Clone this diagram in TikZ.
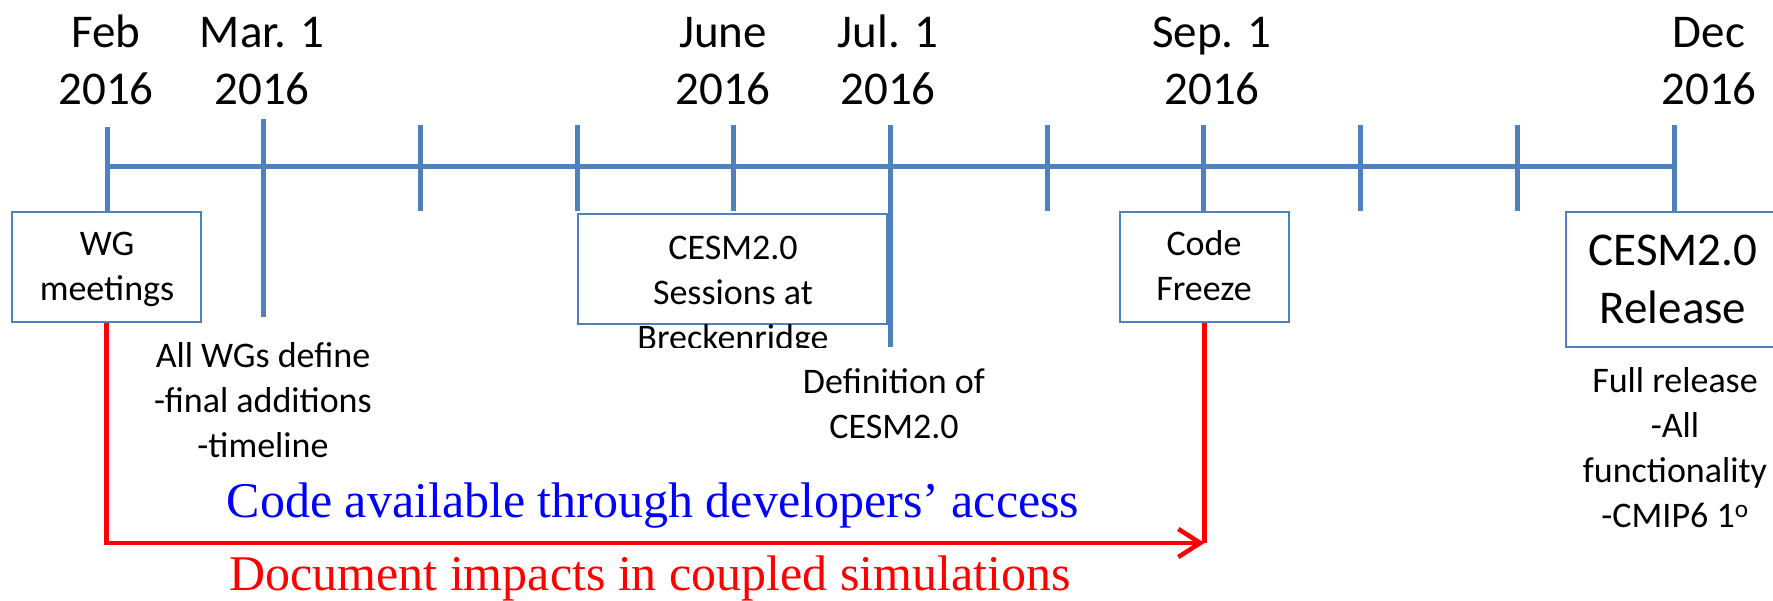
\documentclass[tikz,border=0pt]{standalone}
\usepackage{fontspec}
\setmainfont{Carlito}
\newfontfamily\timesfont{Liberation Serif}
\usetikzlibrary{arrows.meta,calc}
\definecolor{axisblue}{HTML}{4F81BD}
\newcommand{\mylines}[1]{\begin{tabular}[t]{@{}c@{}}#1\end{tabular}}
\begin{document}
\begin{tikzpicture}[x=1pt,y=-1pt,
  axisline/.style={draw=axisblue,line width=5pt},
  evbox/.style={draw=axisblue,line width=2pt,fill=white,inner sep=0pt},
  datelabel/.style={anchor=base,inner sep=0pt,font=\fontsize{47}{57}\selectfont},
  note/.style={anchor=base,inner sep=0pt,font=\fontsize{36}{45}\selectfont},
  bignote/.style={anchor=base,inner sep=0pt,font=\fontsize{47}{58}\selectfont},
  redline/.style={draw=red,line width=4.5pt},
  serifnote/.style={anchor=base,inner sep=0pt,font=\timesfont\fontsize{50}{60}\selectfont}]
\useasboundingbox (0,0) rectangle (1773,600);
% tick positions on the axis
\foreach \i in {0,...,10}{\coordinate (t\i) at ({107+156.7*\i},166);}
% boxes
\node[evbox,minimum width=189pt,minimum height=110pt] (wg) at (106.5,267) {};
\node[evbox,minimum width=309pt,minimum height=110pt] (cesm) at (732.5,269) {};
\node[evbox,minimum width=169pt,minimum height=110pt] (freeze) at (1204.5,267) {};
\node[evbox,minimum width=214pt,minimum height=135pt] (release) at (1673,279.5) {};
% axis and ticks
\draw[axisline] (t0) -- (t10);
\draw[axisline] ($(t0)+(0,-39)$) -- ($(t0)+(0,47)$);
\draw[axisline] ($(t1)+(0,-47)$) -- ($(t1)+(0,151)$);
\foreach \i in {2,3,4,6,8,9}{\draw[axisline] ($(t\i)+(0,-41)$) -- ($(t\i)+(0,45)$);}
\draw[axisline] ($(t5)+(0,-41)$) -- ($(t5)+(0,181)$);
\draw[axisline] ($(t7)+(0,-41)$) -- ($(t7)+(0,46)$);
\draw[axisline] ($(t10)+(0,-41)$) -- ($(t10)+(0,46)$);
% date labels
\node[datelabel] (lfeb) at (106,47) {\mylines{Feb\\2016}};
\node[datelabel] (lmar) at (262,47) {\mylines{Mar. 1\\2016}};
\node[datelabel] (ljun) at (723,47) {\mylines{June\\2016}};
\node[datelabel] (ljul) at (888,47) {\mylines{Jul. 1\\2016}};
\node[datelabel] (lsep) at (1212,47) {\mylines{Sep. 1\\2016}};
\node[datelabel] (ldec) at (1709,47) {\mylines{Dec\\2016}};
% box texts
\node[note] (wgtext) at (107,255) {\mylines{WG\\meetings}};
\begin{scope}
\clip (0,0) rectangle (1773,347);
\node[note] (cesmtext) at (733,259) {\mylines{CESM2.0\\Sessions at\\Breckenridge}};
\end{scope}
\node[note] (freezetext) at (1204,255) {\mylines{Code\\Freeze}};
\node[bignote] (reltext) at (1673,265) {\mylines{CESM2.0\\Release}};
% notes
\node[note] (allwg) at (263,367) {\mylines{All WGs define\\-final additions\\-timeline}};
\node[note] (defn) at (894,393) {\mylines{Definition of\\CESM2.0}};
\node[note] (full) at (1675,392) {\mylines{Full release\\-All\\functionality\\-CMIP6 1\textsuperscript{o}}};
% red connector
\coordinate (corner) at (1204.5,543);
\draw[redline] (freeze.south) -- (corner);
\draw[redline,-{Straight Barb[length=22pt,width=28pt]}] (wg.south) -- (wg.south |- corner) -- (corner);
% serif texts
\node[serifnote,text=blue] (codeavail) at (653,517) {Code available through developers’ access};
\node[serifnote,text=red] (docimp) at (650,590) {Document impacts in coupled simulations};
\end{tikzpicture}
\end{document}
